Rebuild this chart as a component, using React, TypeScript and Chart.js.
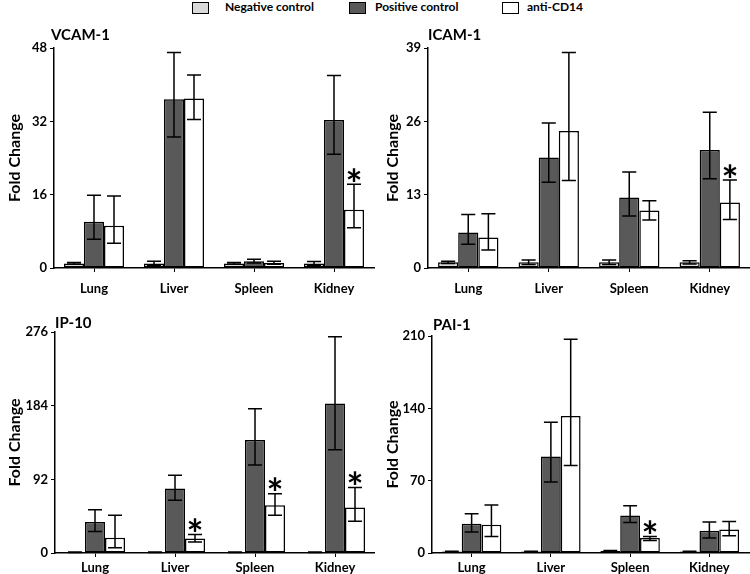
import React, { useEffect, useRef } from 'react';
import { Chart, registerables } from 'chart.js';
Chart.register(...registerables);

const FONT = 'Lato';

const categories = ['Lung', 'Liver', 'Spleen', 'Kidney'];
const seriesNames = ['Negative control', 'Positive control', 'anti-CD14'];
const seriesColors = ['#d9d9d9', '#595959', '#ffffff'];

// VCAM-1
const vcamTicks = [0, 16, 32, 48];
const vcamNeg = [1.0, 1.0, 1.0, 1.0];
const vcamNegHigh = [1.2, 1.5, 1.2, 1.4];
const vcamNegLow = [0.8, 0.6, 0.8, 0.6];
const vcamPos = [10.1, 36.8, 1.5, 32.3];
const vcamPosHigh = [15.9, 47.0, 1.9, 42.0];
const vcamPosLow = [6.3, 28.6, 1.1, 24.8];
const vcamAnti = [9.2, 37.0, 1.1, 12.7];
const vcamAntiHigh = [15.7, 42.1, 1.5, 18.3];
const vcamAntiLow = [5.4, 32.4, 0.8, 8.8];
const vcamSig = [false, false, false, true];

// ICAM-1
const icamTicks = [0, 13, 26, 39];
const icamNeg = [1.0, 1.0, 1.0, 1.0];
const icamNegHigh = [1.2, 1.4, 1.4, 1.3];
const icamNegLow = [0.8, 0.6, 0.6, 0.7];
const icamPos = [6.3, 19.6, 12.5, 20.9];
const icamPosHigh = [9.5, 25.7, 17.0, 27.6];
const icamPosLow = [4.2, 15.2, 9.2, 15.8];
const icamAnti = [5.4, 24.3, 10.2, 11.6];
const icamAntiHigh = [9.6, 38.2, 11.9, 15.6];
const icamAntiLow = [3.2, 15.5, 8.5, 8.6];
const icamSig = [false, false, false, true];

// IP-10
const ipTicks = [0, 92, 184, 276];
const ipNeg = [1.0, 1.0, 1.0, 1.0];
const ipNegHigh = [1.3, 1.3, 1.3, 1.3];
const ipNegLow = [0.7, 0.7, 0.7, 0.7];
const ipPos = [38.7, 80.5, 141, 186.7];
const ipPosHigh = [54, 97, 180, 270];
const ipPosLow = [27, 66, 110, 129];
const ipAnti = [19.2, 18, 59.6, 56.7];
const ipAntiHigh = [47, 23, 74, 81.7];
const ipAntiLow = [6.7, 13.8, 47, 39.6];
const ipSig = [false, true, true, true];

// PAI-1
const paiTicks = [0, 70, 140, 210];
const paiNeg = [1.5, 1.5, 2.0, 1.5];
const paiNegHigh = [1.8, 1.8, 2.4, 1.8];
const paiNegLow = [1.2, 1.2, 1.6, 1.2];
const paiPos = [28.3, 93.4, 36.3, 21.5];
const paiPosHigh = [38, 126.6, 45.7, 30];
const paiPosLow = [20.3, 68.6, 29.6, 14.5];
const paiAnti = [27.3, 132.7, 14.5, 22.8];
const paiAntiHigh = [46.5, 206.8, 16, 30.5];
const paiAntiLow = [16, 84.6, 12.2, 16.7];
const paiSig = [false, false, true, false];

type Panel = {
  title: string;
  ticks: number[];
  values: number[][];
  highs: number[][];
  lows: number[][];
  sig: boolean[];
  left: number; top: number; w: number; h: number;
  padLeft: number; axisX: number; chartTop: number; chartBottom: number; chartRight: number;
  titleX: number; titleY: number; labelPad: number;
};

const panels: Panel[] = [
  {
    title: 'VCAM-1', ticks: vcamTicks,
    values: [vcamNeg, vcamPos, vcamAnti], highs: [vcamNegHigh, vcamPosHigh, vcamAntiHigh], lows: [vcamNegLow, vcamPosLow, vcamAntiLow], sig: vcamSig,
    left: 0, top: 0, w: 375, h: 300, padLeft: 5, axisX: 54, chartTop: 48, chartBottom: 268, chartRight: 374,
    titleX: 51, titleY: 35, labelPad: 9,
  },
  {
    title: 'ICAM-1', ticks: icamTicks,
    values: [icamNeg, icamPos, icamAnti], highs: [icamNegHigh, icamPosHigh, icamAntiHigh], lows: [icamNegLow, icamPosLow, icamAntiLow], sig: icamSig,
    left: 375, top: 0, w: 375, h: 300, padLeft: 8, axisX: 53, chartTop: 48, chartBottom: 268, chartRight: 375,
    titleX: 53, titleY: 35, labelPad: 9,
  },
  {
    title: 'IP-10', ticks: ipTicks,
    values: [ipNeg, ipPos, ipAnti], highs: [ipNegHigh, ipPosHigh, ipAntiHigh], lows: [ipNegLow, ipPosLow, ipAntiLow], sig: ipSig,
    left: 0, top: 300, w: 375, h: 274, padLeft: 5, axisX: 55, chartTop: 32, chartBottom: 253, chartRight: 375,
    titleX: 55, titleY: 23, labelPad: 3,
  },
  {
    title: 'PAI-1', ticks: paiTicks,
    values: [paiNeg, paiPos, paiAnti], highs: [paiNegHigh, paiPosHigh, paiAntiHigh], lows: [paiNegLow, paiPosLow, paiAntiLow], sig: paiSig,
    left: 375, top: 300, w: 375, h: 274, padLeft: 8, axisX: 57, chartTop: 36, chartBottom: 253, chartRight: 374,
    titleX: 58, titleY: 25, labelPad: 3,
  },
];

function makeOverlay(p: Panel) {
  return {
    id: 'overlay_' + p.title,
    afterDatasetsDraw(chart: any) {
      const ctx = chart.ctx;
      const ys = chart.scales.y;
      ctx.save();
      ctx.strokeStyle = '#000';
      ctx.lineWidth = 1.5;
      p.values.forEach((_, di) => {
        const meta = chart.getDatasetMeta(di);
        meta.data.forEach((bar: any, i: number) => {
          const { x, width } = bar.getProps(['x', 'width'], true);
          const half = width * 0.35;
          const yh = ys.getPixelForValue(p.highs[di][i]);
          const yl = ys.getPixelForValue(p.lows[di][i]);
          ctx.beginPath();
          ctx.moveTo(x, yh); ctx.lineTo(x, yl);
          ctx.moveTo(x - half, yh); ctx.lineTo(x + half, yh);
          ctx.moveTo(x - half, yl); ctx.lineTo(x + half, yl);
          ctx.stroke();
          if (di === 2 && p.sig[i]) {
            const S = 40;
            ctx.fillStyle = '#000';
            ctx.font = `bold ${S}px ${FONT}`;
            ctx.textAlign = 'center';
            ctx.textBaseline = 'alphabetic';
            ctx.fillText('*', x, yh - 3 + 0.44 * S);
          }
        });
      });
      ctx.restore();
    },
    afterDraw(chart: any) {
      const ctx = chart.ctx;
      ctx.save();
      ctx.fillStyle = '#000';
      ctx.font = `bold 15px ${FONT}`;
      ctx.textAlign = 'left';
      ctx.textBaseline = 'middle';
      ctx.fillText(p.title, p.titleX, p.titleY);
      ctx.restore();
    },
  };
}

function PanelChart({ p }: { p: Panel }) {
  const ref = useRef<HTMLCanvasElement>(null);
  useEffect(() => {
    if (!ref.current) return;
    const tickFont = { family: FONT, size: 13, weight: 'bold' as const };
    const chart = new Chart(ref.current, {
      type: 'bar',
      data: {
        labels: categories,
        datasets: p.values.map((vals, di) => ({
          label: seriesNames[di],
          data: vals,
          backgroundColor: seriesColors[di],
          borderColor: '#000',
          borderWidth: 1.5,
          borderSkipped: false,
          categoryPercentage: 0.75,
          barPercentage: 1.0,
        })),
      },
      options: {
        responsive: false,
        animation: false,
        devicePixelRatio: 1,
        layout: { padding: { left: p.padLeft, top: p.chartTop, right: p.w - p.chartRight, bottom: 0 } },
        plugins: { legend: { display: false }, tooltip: { enabled: false }, title: { display: false } },
        scales: {
          x: {
            ticks: { font: tickFont, color: '#000', padding: p.labelPad },
            grid: { display: true, drawOnChartArea: false, offset: false, tickLength: 4, color: '#000', lineWidth: 1 },
            border: { display: true, color: '#000', width: 1.5 },
            afterFit: (s: any) => { s.height = p.h - p.chartBottom; },
          },
          y: {
            min: p.ticks[0],
            max: p.ticks[p.ticks.length - 1],
            afterBuildTicks: (s: any) => { s.ticks = p.ticks.map((v) => ({ value: v })); },
            ticks: { font: tickFont, color: '#000', padding: 3 },
            grid: { display: true, drawOnChartArea: false, tickLength: 4, color: '#000', lineWidth: 1 },
            border: { display: true, color: '#000', width: 1.5 },
            title: { display: true, text: 'Fold Change', color: '#000', font: { family: FONT, size: 16, weight: 'bold' }, padding: { top: 0, bottom: 0 } },
            afterFit: (s: any) => { s.width = p.axisX - p.padLeft; },
          },
        },
      },
      plugins: [makeOverlay(p)],
    } as any);
    return () => chart.destroy();
  }, [p]);
  return (
    <canvas
      ref={ref}
      width={p.w}
      height={p.h}
      style={{ position: 'absolute', left: p.left, top: p.top, width: p.w, height: p.h }}
    />
  );
}

const legendItems = [
  { box: 192, text: 225 },
  { box: 349, text: 375 },
  { box: 502, text: 527 },
];

export default function App() {
  return (
    <div style={{ position: 'absolute', left: 0, top: 0, width: 750, height: 574, background: '#fff', overflow: 'hidden', fontFamily: FONT }}>
      {legendItems.map((it, i) => (
        <React.Fragment key={i}>
          <div style={{ position: 'absolute', left: it.box, top: 2, width: 15, height: 10, background: seriesColors[i], border: '1px solid #000' }} />
          <div style={{ position: 'absolute', left: it.text, top: 0, fontSize: 12, fontWeight: 700, lineHeight: '14px', color: '#000', whiteSpace: 'nowrap' }}>{seriesNames[i]}</div>
        </React.Fragment>
      ))}
      {panels.map((p) => <PanelChart key={p.title} p={p} />)}
    </div>
  );
}
